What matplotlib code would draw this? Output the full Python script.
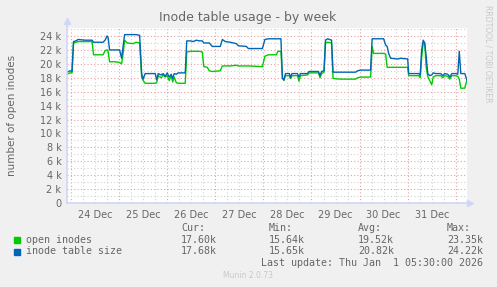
import matplotlib
matplotlib.use('Agg')
import matplotlib.pyplot as plt

# hours since 24 Dec 00:00
hours = [-2.0, -0.5, 0.5, 1.25, 2.5, 3.5, 7, 10.5, 11.25, 16, 17, 18, 18.5, 19.25, 22,
         24.25, 25.25, 26, 26.75, 28, 31, 32.5, 34.25, 35.25, 36, 37, 42, 42.75, 43.5,
         45, 46, 47, 48, 49, 50, 50.75, 51.5, 52.5, 53.5, 57, 57.75, 59.5, 61, 62.5,
         64, 65.5, 66.25, 68, 69, 70.5, 74.5, 75.5, 77, 79.5, 82.5, 83.5, 87.5, 88.5,
         95.5, 96.75, 98.5, 102.5, 103.25, 104.75, 105.5, 106.25, 107, 109, 109.5,
         110.25, 113, 113.75, 114.5, 118, 118.75, 123.5, 124.25, 125, 126.25, 127, 128,
         130, 130.75, 134.5, 142, 143, 144.5, 149.5, 150.25, 151, 156, 157, 157.75,
         158.5, 159.5, 163, 164.5, 168, 168.5, 173.5, 174.25, 175, 175.75, 176.5,
         177.25, 178, 179, 180, 180.75, 182, 184.5, 185.5, 186.5, 188, 189, 190, 192,
         193, 193.75, 194.5, 196.5, 197.5]

# open inodes (thousands)
open_inodes = [18.5, 18.7, 18.7, 23.0, 23.1, 23.2, 23.2, 23.2, 21.3, 21.3, 21.9, 22.0, 21.8,
               20.3, 20.3, 20.2, 20.0, 21.5, 23.4, 23.0, 22.9, 23.1, 23.0, 18.1, 17.6,
               17.2, 17.2, 17.3, 18.3, 18.0, 18.4, 18.1, 18.3, 17.6, 18.3, 17.4, 18.1,
               17.3, 17.2, 17.2, 21.7, 21.8, 21.8, 21.8, 21.8, 21.7, 19.6, 19.5, 19.0,
               18.9, 19.0, 19.7, 19.7, 19.7, 19.8, 19.7, 19.7, 19.7, 19.6, 21.1, 21.3,
               21.3, 21.8, 21.8, 18.0, 17.6, 18.3, 18.3, 17.9, 18.3, 18.3, 17.5, 18.3,
               18.4, 18.7, 18.7, 18.0, 18.6, 18.8, 23.0, 23.1, 23.0, 17.9, 17.8, 17.8,
               18.0, 18.1, 18.1, 22.5, 21.5, 21.5, 21.4, 19.5, 19.5, 19.5, 19.5, 19.5,
               19.5, 18.3, 18.3, 18.0, 21.0, 23.0, 23.0, 19.5, 18.2, 17.6, 17.0, 18.1,
               18.3, 18.3, 18.0, 18.3, 18.2, 17.8, 18.3, 18.3, 18.2, 17.8, 16.5, 16.5,
               17.6]

# inode table size (thousands)
table_size = [18.8, 19.0, 18.9, 23.2, 23.3, 23.5, 23.4, 23.4, 23.1, 23.1, 23.4, 24.0, 23.8,
              22.0, 22.0, 22.0, 20.8, 22.5, 24.2, 24.2, 24.2, 24.2, 24.1, 18.6, 17.8,
              18.6, 18.6, 17.7, 18.6, 18.4, 18.6, 18.2, 18.7, 18.1, 18.5, 17.9, 18.6,
              18.5, 18.7, 18.7, 23.3, 23.3, 23.2, 23.4, 23.3, 23.3, 23.0, 23.0, 23.0,
              22.5, 22.5, 23.5, 23.2, 23.1, 22.9, 22.6, 22.5, 22.2, 22.2, 23.5, 23.6,
              23.6, 23.6, 23.6, 17.9, 17.7, 18.6, 18.6, 18.0, 18.6, 18.6, 18.1, 18.6,
              18.6, 18.9, 18.9, 18.3, 18.9, 19.0, 23.4, 23.6, 23.4, 18.8, 18.8, 18.8,
              19.0, 19.1, 19.1, 23.6, 23.6, 23.6, 22.7, 22.5, 21.5, 20.8, 20.7, 20.8,
              20.7, 18.6, 18.6, 18.4, 22.0, 23.4, 23.0, 21.0, 18.6, 18.3, 18.4, 18.7,
              18.6, 18.6, 18.3, 18.6, 18.5, 18.1, 18.6, 18.6, 18.5, 21.8, 18.6, 18.6,
              17.7]

day_labels = ['24 Dec', '25 Dec', '26 Dec', '27 Dec', '28 Dec', '29 Dec', '30 Dec', '31 Dec']
y_ticks = list(range(0, 25, 2))
y_labels = ['0'] + ['%d k' % v for v in y_ticks[1:]]

legend_rows = [
    ('open inodes', '#00CC00', '17.60k', '15.64k', '19.52k', '23.35k'),
    ('inode table size', '#0066B3', '17.68k', '15.65k', '20.82k', '24.22k'),
]

FONT = '#666666'
AXIS = '#CFD6F8'
W, H = 497, 287

fig = plt.figure(figsize=(W / 100, H / 100), dpi=100, facecolor='#F0F0F0')
ax = fig.add_axes([67 / W, 1 - 203 / H, 400 / W, 175 / H])
ax.set_facecolor('white')
x0, x1 = -2.0, 197.6
y0, y1 = 0, 25.15
ax.set_xlim(x0, x1)
ax.set_ylim(y0, y1)

# grid
for h in range(0, 198, 6):
    major = h % 24 == 0
    ax.axvline(h, color='#E8A0A0' if major else '#D2D2D2', lw=0.8,
               ls=(0, (1, 2)), zorder=1)
for v in range(1, 26):
    major = v % 2 == 0
    ax.axhline(v, color='#E8A0A0' if major else '#D2D2D2', lw=0.8,
               ls=(0, (1, 2)), zorder=1)

ax.plot(hours, open_inodes, color='#00CC00', lw=1.0, zorder=3)
ax.plot(hours, table_size, color='#0066B3', lw=1.0, zorder=4)

for s in ax.spines.values():
    s.set_visible(False)
ax.axhline(0, color=AXIS, lw=1.2, zorder=5, clip_on=False)
ax.plot([0, 0], [0, 1.04], transform=ax.transAxes, color=AXIS, lw=1.2,
        clip_on=False, zorder=5)
ax.plot([1.008], [0], marker='>', ms=5, color=AXIS, transform=ax.transAxes,
        clip_on=False, zorder=5)
ax.plot([0], [1.04], marker='^', ms=5, color=AXIS, transform=ax.transAxes,
        clip_on=False, zorder=5)

ax.set_yticks(y_ticks)
ax.set_yticklabels(y_labels)
ax.set_xticks([12 + 24 * i for i in range(len(day_labels))])
ax.set_xticklabels(day_labels)
ax.tick_params(length=0, labelsize=7, colors=FONT, pad=4)
ax.tick_params(axis='x', pad=5)

fig.text(248 / W, 1 - 18 / H, 'Inode table usage - by week', ha='center', va='center',
         fontsize=9, color=FONT)
fig.text(12 / W, 1 - 115 / H, 'number of open inodes', rotation=90, ha='center',
         va='center', fontsize=7.5, color=FONT)
fig.text(488 / W, 1 - 5 / H, 'RRDTOOL / TOBI OETIKER', rotation=270, ha='center',
         va='top', fontsize=5.5, color='#C8C8C8')

mono = dict(family='DejaVu Sans Mono', fontsize=7.2, color=FONT, va='center')
cols = [181, 269, 358, 447]
for x, t in zip(cols, ['Cur:', 'Min:', 'Avg:', 'Max:']):
    fig.text(x / W, 1 - 228 / H, t, **mono)
for i, (name, col, *vals) in enumerate(legend_rows):
    y = 240 + 11.5 * i
    fig.patches.append(plt.Rectangle((14 / W, 1 - (y + 3) / H), 6 / W, 6 / H,
                                     color=col, transform=fig.transFigure))
    fig.text(26 / W, 1 - y / H, name, **mono)
    for x, v in zip(cols, vals):
        fig.text(x / W, 1 - y / H, v, **mono)
fig.text(483 / W, 1 - 263.5 / H, 'Last update: Thu Jan  1 05:30:00 2026', ha='right',
         **{k: v for k, v in mono.items()})
fig.text(248 / W, 1 - 276 / H, 'Munin 2.0.73', ha='center', va='center',
         fontsize=5.5, color='#C8C8C8')

fig.savefig('out.png', dpi=100, facecolor=fig.get_facecolor())
